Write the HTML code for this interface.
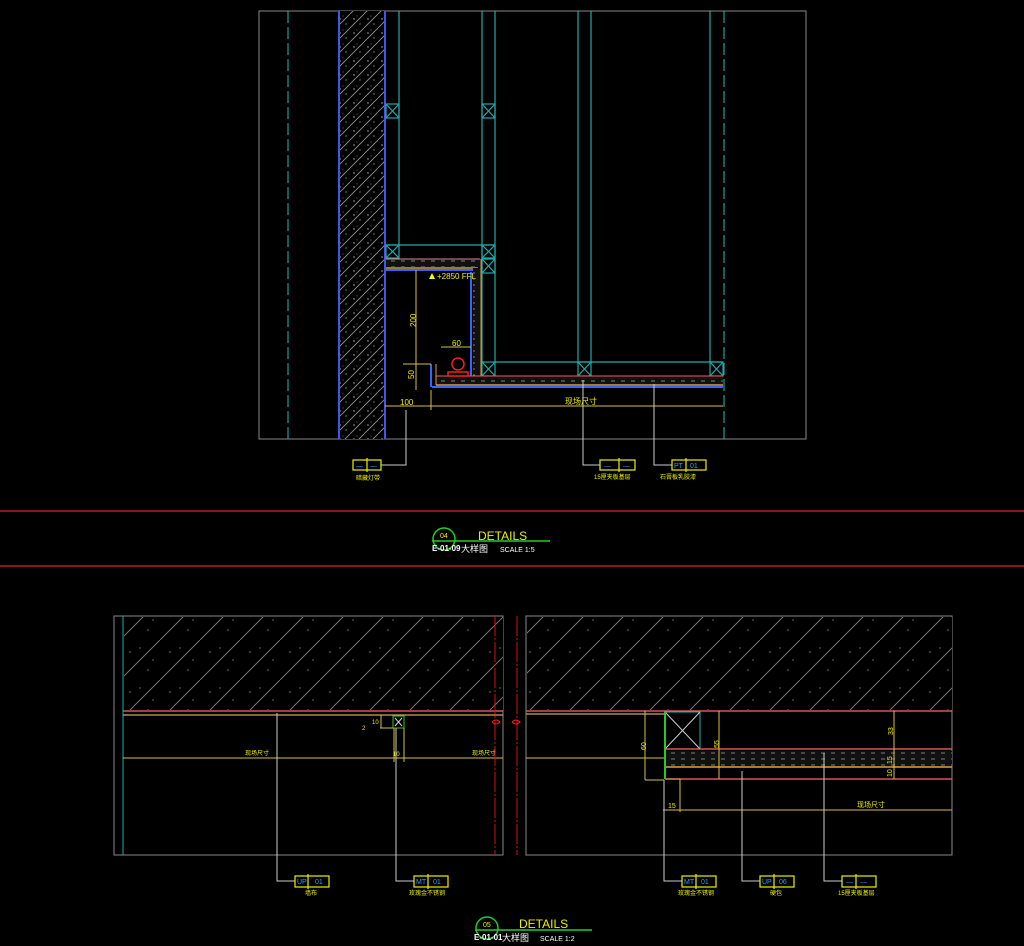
<!DOCTYPE html>
<html><head><meta charset="utf-8"><style>
html,body{margin:0;padding:0;background:#000;}
svg{display:block}
text{font-family:"Liberation Sans","Noto Sans CJK SC",sans-serif;}
</style></head><body>
<svg width="1024" height="946" viewBox="0 0 1024 946" xmlns="http://www.w3.org/2000/svg">
<defs>
<pattern id="hat" width="14" height="14" patternUnits="userSpaceOnUse">
<rect width="14" height="14" fill="#000"/>
<path d="M0,14 L14,0" stroke="#9a9a9a" stroke-width="0.8"/>
<circle cx="4" cy="5" r="0.7" fill="#bbb"/><circle cx="10" cy="10" r="0.6" fill="#bbb"/><circle cx="7" cy="2" r="0.5" fill="#999"/>
</pattern>
<pattern id="hat2" width="40" height="40" patternUnits="userSpaceOnUse">
<rect width="40" height="40" fill="#000"/>
<path d="M0,40 L40,0" stroke="#8a8a8a" stroke-width="0.8"/>
<circle cx="10" cy="12" r="0.7" fill="#888"/><circle cx="28" cy="30" r="0.7" fill="#888"/>
<circle cx="20" cy="8" r="0.6" fill="#aaa"/><circle cx="33" cy="20" r="0.6" fill="#aaa"/>
</pattern>
<pattern id="layer" width="10" height="6" patternUnits="userSpaceOnUse">
<rect width="10" height="6" fill="#111"/><path d="M1,3 L5,3" stroke="#999" stroke-width="0.8"/>
</pattern>
</defs>

<!-- TOP DETAIL -->
<rect x="259" y="11" width="547" height="428" fill="none" stroke="#888" stroke-width="1"/>
<line x1="288" y1="11" x2="288" y2="439" stroke="#2bb" stroke-dasharray="12,4"/>
<line x1="724" y1="11" x2="724" y2="439" stroke="#2bb" stroke-dasharray="12,4"/>
<rect x="339" y="11" width="46" height="428" fill="url(#hat)"/>
<line x1="339" y1="11" x2="339" y2="439" stroke="#4455ee" stroke-width="2"/>
<line x1="385" y1="11" x2="385" y2="439" stroke="#4455ee" stroke-width="2"/>
<g stroke="#2aa" stroke-width="1.2" fill="none">
<line x1="399" y1="11" x2="399" y2="245"/>
<line x1="482" y1="11" x2="482" y2="362"/>
<line x1="495" y1="11" x2="495" y2="362"/>
<line x1="578" y1="11" x2="578" y2="362"/>
<line x1="591" y1="11" x2="591" y2="362"/>
<line x1="710" y1="11" x2="710" y2="362"/>
<rect x="386" y="104" width="13" height="14"/><path d="M386,104 L399,118 M399,104 L386,118"/>
<rect x="482" y="104" width="13" height="14"/><path d="M482,104 L495,118 M495,104 L482,118"/>
<line x1="386" y1="245" x2="495" y2="245"/>
<rect x="386" y="245" width="13" height="13"/><path d="M386,245 L399,258 M399,245 L386,258"/>
<rect x="482" y="245" width="13" height="13"/><path d="M482,245 L495,258 M495,245 L482,258"/>
<rect x="482" y="259" width="13" height="14"/><path d="M482,259 L495,273 M495,259 L482,273"/>
<line x1="495" y1="362" x2="723" y2="362"/>
<rect x="482" y="362" width="13" height="14"/><path d="M482,362 L495,376 M495,362 L482,376"/>
<rect x="578" y="362" width="13" height="14"/><path d="M578,362 L591,376 M591,362 L578,376"/>
<rect x="710" y="362" width="13" height="14"/><path d="M710,362 L723,376 M723,362 L710,376"/>
</g>
<rect x="386" y="259" width="94" height="8" fill="url(#layer)"/>
<line x1="386" y1="259" x2="480" y2="259" stroke="#d88" stroke-width="1"/>
<line x1="386" y1="268" x2="478" y2="268" stroke="#d8a040" stroke-width="1.5"/>
<line x1="386" y1="270" x2="475" y2="270" stroke="#3366ff" stroke-width="2"/>
<rect x="473" y="268" width="8" height="110" fill="url(#layer)"/>
<line x1="481" y1="259" x2="481" y2="376" stroke="#d8a040"/>
<line x1="471" y1="272" x2="471" y2="376" stroke="#3366ff" stroke-width="2"/>
<rect x="436" y="376" width="287" height="9" fill="url(#layer)"/>
<line x1="436" y1="376" x2="723" y2="376" stroke="#f55" stroke-width="1"/>
<line x1="436" y1="385" x2="723" y2="385" stroke="#d8a040" stroke-width="1.5"/>
<line x1="432" y1="387" x2="723" y2="387" stroke="#3366ff" stroke-width="2"/>
<line x1="431" y1="364" x2="431" y2="387" stroke="#3366ff" stroke-width="2"/>
<line x1="436" y1="364" x2="436" y2="385" stroke="#d8a040"/>
<g stroke="#e22" fill="none" stroke-width="1.5"><circle cx="458" cy="364" r="6"/><rect x="448" y="372" width="20" height="4"/></g>
<g stroke="#d8c040" stroke-width="1" fill="none">
<line x1="416" y1="270" x2="416" y2="390"/>
<line x1="385" y1="406" x2="723" y2="406"/>
<line x1="431" y1="390" x2="431" y2="410"/>
<line x1="441" y1="347" x2="471" y2="347"/>
<line x1="403" y1="364" x2="431" y2="364"/>
</g>
<polygon points="429,279 435,279 432,273" fill="#ff0"/>
<g fill="#ee0" font-size="8">
<text x="437" y="279">+2850 FFL</text>
<text x="402" y="323" transform="rotate(-90 411 318)">200</text>
<text x="452" y="346">60</text>
<text x="407" y="376" transform="rotate(-90 412 374)">50</text>
<text x="400" y="405">100</text>
<text x="565" y="404">现场尺寸</text>
</g>
<g stroke="#ccc" fill="none" stroke-width="1">
<polyline points="406,410 406,465 381,465"/>
<polyline points="583,380 583,465 600,465"/>
<polyline points="654,384 654,465 672,465"/>
</g>
<g stroke="#ee0" fill="none" stroke-width="1.2">
<rect x="353" y="460" width="28" height="10"/><line x1="367" y1="458" x2="367" y2="472"/>
<rect x="600" y="460" width="35" height="10"/><line x1="619" y1="458" x2="619" y2="472"/>
<rect x="672" y="460" width="34" height="10"/><line x1="686" y1="458" x2="686" y2="472"/>
</g>
<g font-size="6" fill="#ee0"><text x="356" y="480">暗藏灯带</text><text x="594" y="479">15厘夹板基层</text><text x="660" y="479">石膏板乳胶漆</text></g>
<g font-size="7" fill="#39f"><text x="674" y="468">PT</text><text x="690" y="468">01</text></g>

<line x1="0" y1="511" x2="1024" y2="511" stroke="#d22" stroke-width="1.2"/>
<line x1="0" y1="566" x2="1024" y2="566" stroke="#d22" stroke-width="1.2"/>
<circle cx="444" cy="539" r="11" fill="none" stroke="#2c2" stroke-width="1.5"/>
<line x1="432" y1="541" x2="550" y2="541" stroke="#2c2" stroke-width="1.5"/>
<text x="440" y="538" font-size="7" fill="#ee0">04</text>
<text x="432" y="551" font-size="8" fill="#fff" font-weight="bold">E-01-09</text>
<text x="478" y="540" font-size="12" fill="#ee0">DETAILS</text>
<text x="461" y="552" font-size="9" fill="#fff">大样图</text>
<text x="500" y="552" font-size="7" fill="#fff">SCALE  1:5</text>

<!-- BOTTOM LEFT -->
<rect x="114" y="616" width="389" height="239" fill="none" stroke="#888"/>
<rect x="124" y="617" width="379" height="93" fill="url(#hat2)"/>
<line x1="123" y1="616" x2="123" y2="855" stroke="#2aa"/>
<line x1="123" y1="711" x2="503" y2="711" stroke="#f66" stroke-width="1.2"/>
<line x1="123" y1="715" x2="503" y2="715" stroke="#d8a060" stroke-width="1.2"/>
<line x1="123" y1="758" x2="503" y2="758" stroke="#d8c040"/>
<rect x="393" y="716" width="11" height="12" fill="none" stroke="#2c2"/>
<path d="M395,718 L402,726 M402,718 L395,726" stroke="#ccc"/>
<g stroke="#d8c040" fill="none"><line x1="380" y1="728" x2="393" y2="728"/><line x1="381" y1="715" x2="381" y2="728"/><line x1="394" y1="728" x2="394" y2="762"/><line x1="404" y1="728" x2="404" y2="762"/></g>
<g stroke="#ccc" fill="none"><polyline points="277,713 277,881 295,881"/><polyline points="396,728 396,881 414,881"/></g>
<g fill="#ee0" font-size="6"><text x="245" y="755">现场尺寸</text><text x="472" y="755">现场尺寸</text><text x="393" y="756">10</text><text x="372" y="724">10</text><text x="362" y="730">2</text><text x="305" y="895">墙布</text><text x="409" y="895">玫瑰金不锈钢</text></g>
<g stroke="#ee0" fill="none" stroke-width="1.2"><rect x="295" y="876" width="34" height="11"/><line x1="308" y1="874" x2="308" y2="889"/><rect x="414" y="876" width="34" height="11"/><line x1="428" y1="874" x2="428" y2="889"/></g>
<g font-size="7" fill="#39f"><text x="297" y="884">UP</text><text x="315" y="884">01</text><text x="416" y="884">MT</text><text x="433" y="884">01</text></g>
<path d="M495,616 L495,855 M517,616 L517,855" stroke="#d11" stroke-dasharray="20,2,2,2" fill="none"/>
<path d="M492,722 q4,-4 8,0 q-4,4 -8,0 M512,722 q4,-4 8,0 q-4,4 -8,0" stroke="#e22" fill="none"/>

<!-- BOTTOM RIGHT -->
<rect x="526" y="616" width="426" height="239" fill="none" stroke="#888"/>
<rect x="527" y="617" width="425" height="93" fill="url(#hat2)"/>
<line x1="526" y1="711" x2="952" y2="711" stroke="#f66" stroke-width="1.2"/>
<line x1="526" y1="714" x2="664" y2="714" stroke="#d8a060" stroke-width="1.2"/>
<line x1="526" y1="758" x2="664" y2="758" stroke="#d8c040"/>
<rect x="665" y="712" width="35" height="37" fill="none" stroke="#2aa"/>
<path d="M665,712 L700,749 M700,712 L665,749" stroke="#ccc"/>
<line x1="665" y1="711" x2="665" y2="779" stroke="#2c2" stroke-width="2"/>
<line x1="665" y1="779" x2="680" y2="779" stroke="#2c2" stroke-width="1.5"/>
<line x1="665" y1="749" x2="952" y2="749" stroke="#f66" stroke-width="1.2"/>
<rect x="666" y="751" width="286" height="15" fill="url(#layer)"/>
<line x1="666" y1="767" x2="952" y2="767" stroke="#e8a040" stroke-width="1.5"/>
<line x1="666" y1="779" x2="952" y2="779" stroke="#f66" stroke-width="1.2"/>
<g stroke="#d8c040" fill="none">
<line x1="645" y1="711" x2="645" y2="780"/><line x1="645" y1="780" x2="664" y2="780"/>
<line x1="719" y1="711" x2="719" y2="779"/>
<line x1="894" y1="711" x2="894" y2="779"/>
<line x1="663" y1="810" x2="952" y2="810"/>
<line x1="680" y1="779" x2="680" y2="812"/>
</g>
<g fill="#ee0" font-size="7">
<text x="636" y="750" transform="rotate(-90 641 745)">60</text>
<text x="711" y="748" transform="rotate(-90 715 744)">55</text>
<text x="885" y="733" transform="rotate(-90 890 730)">33</text>
<text x="885" y="761" transform="rotate(-90 890 759)">15</text>
<text x="885" y="774" transform="rotate(-90 890 772)">10</text>
<text x="668" y="808">15</text>
<text x="857" y="807">现场尺寸</text>
<text x="678" y="895" font-size="6">玫瑰金不锈钢</text><text x="770" y="895" font-size="6">硬包</text><text x="838" y="895" font-size="6">15厘夹板基层</text>
</g>
<g stroke="#ccc" fill="none"><polyline points="664,780 664,881 682,881"/><polyline points="742,771 742,881 760,881"/><polyline points="824,753 824,881 842,881"/></g>
<g stroke="#ee0" fill="none" stroke-width="1.2"><rect x="682" y="876" width="34" height="11"/><line x1="696" y1="874" x2="696" y2="889"/><rect x="760" y="876" width="34" height="11"/><line x1="774" y1="874" x2="774" y2="889"/><rect x="842" y="876" width="34" height="11"/><line x1="856" y1="874" x2="856" y2="889"/></g>
<g font-size="7" fill="#39f"><text x="684" y="884">MT</text><text x="701" y="884">01</text><text x="762" y="884">UP</text><text x="779" y="884">06</text><text x="846" y="884">—</text><text x="860" y="884">—</text></g>
<g font-size="7" fill="#39f"><text x="356" y="468">—</text><text x="370" y="468">—</text><text x="604" y="468">—</text><text x="623" y="468">—</text></g>

<circle cx="487" cy="928" r="11" fill="none" stroke="#2c2" stroke-width="1.5"/>
<line x1="475" y1="930" x2="592" y2="930" stroke="#2c2" stroke-width="1.5"/>
<text x="483" y="927" font-size="7" fill="#ee0">05</text>
<text x="474" y="940" font-size="8" fill="#fff" font-weight="bold">E-01-01</text>
<text x="519" y="928" font-size="12" fill="#ee0">DETAILS</text>
<text x="502" y="941" font-size="9" fill="#fff">大样图</text>
<text x="540" y="941" font-size="7" fill="#fff">SCALE  1:2</text>
</svg>
</body></html>
